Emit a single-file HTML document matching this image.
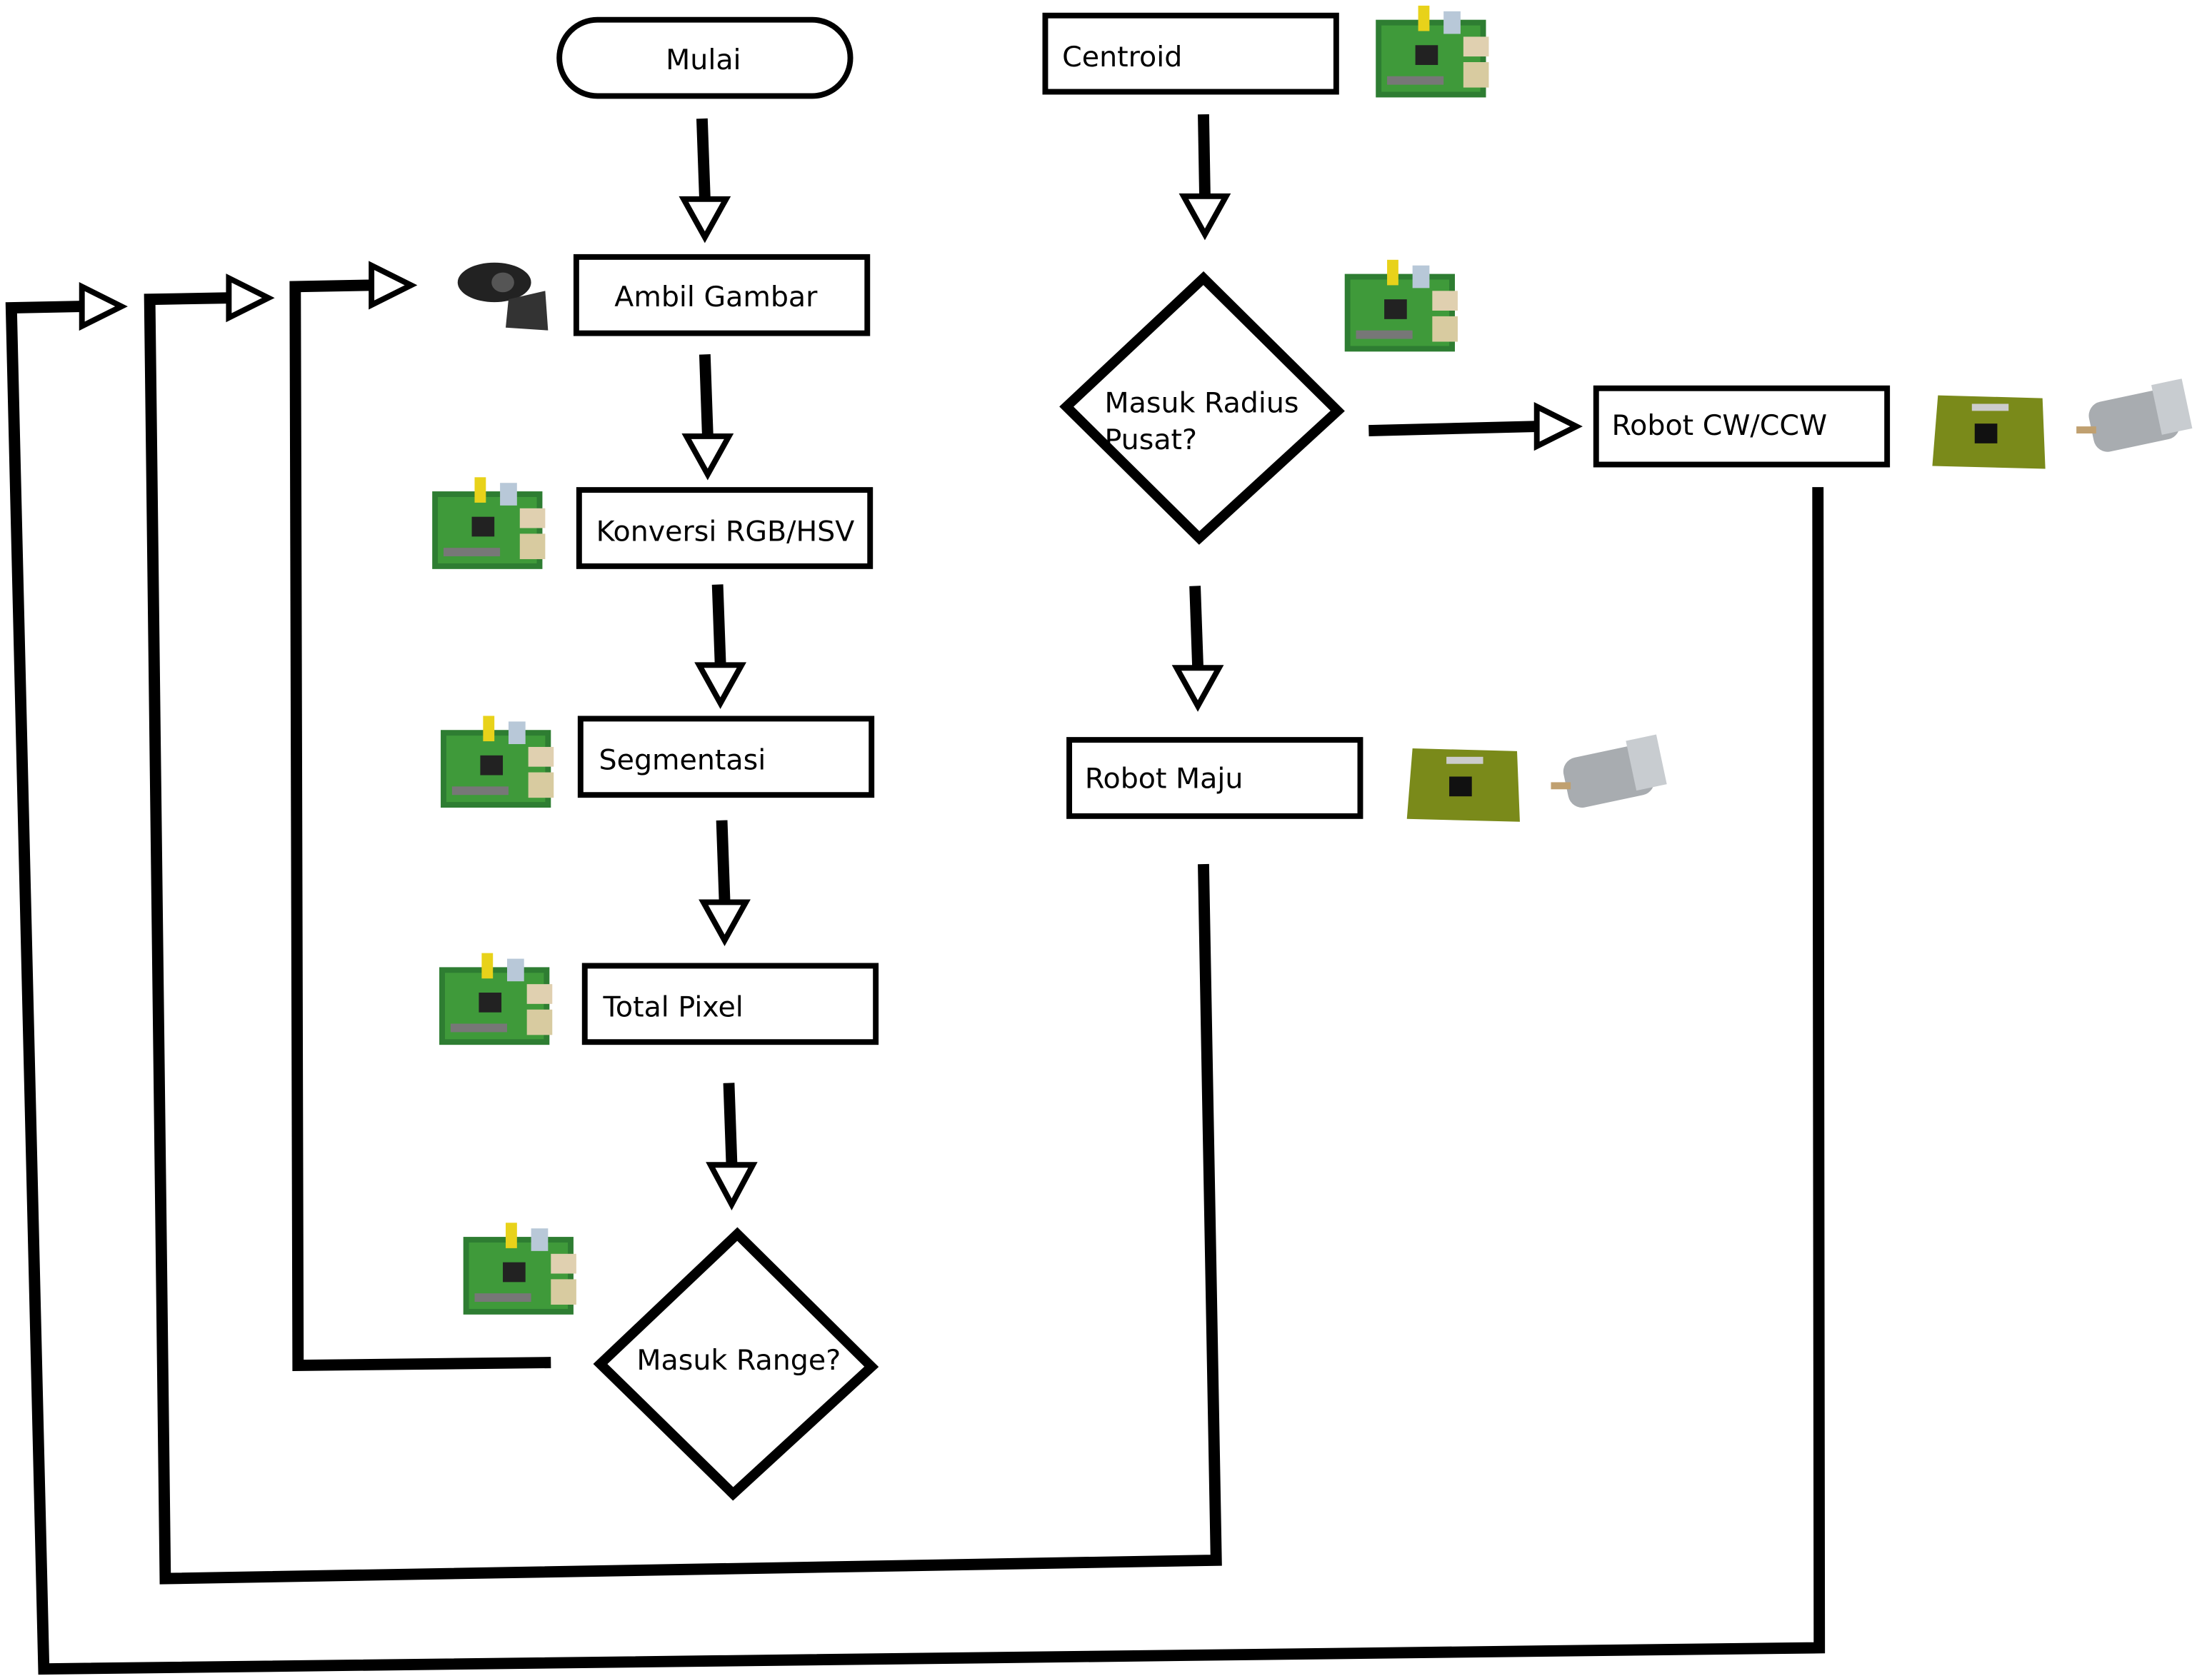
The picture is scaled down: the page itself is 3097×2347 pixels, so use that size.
<!DOCTYPE html>
<html><head><meta charset="utf-8"><style>
html,body{margin:0;padding:0;background:#fff;}
svg{display:block;}
text{font-family:"DejaVu Sans","Liberation Sans",sans-serif;font-size:20px;fill:#000;}
</style></head><body>
<svg width="3097" height="2347" viewBox="0 0 1566 1187" preserveAspectRatio="none" xmlns="http://www.w3.org/2000/svg">
<defs>
<g id="rpi">
<rect x="0" y="10" width="78" height="55" fill="#2e7d32"/>
<rect x="4" y="14" width="70" height="47" fill="#3f9a3a"/>
<rect x="30" y="0" width="8" height="18" fill="#e8d21a"/>
<rect x="48" y="4" width="12" height="16" fill="#b8c8d8"/>
<rect x="62" y="22" width="18" height="14" fill="#e0d0b0"/>
<rect x="62" y="40" width="18" height="18" fill="#d8cba0"/>
<rect x="28" y="28" width="16" height="14" fill="#222"/>
<rect x="8" y="50" width="40" height="6" fill="#777"/>
</g>
<g id="drv">
<polygon points="4,0 78,2 80,52 0,50" fill="#7a8a1a"/>
<rect x="30" y="20" width="16" height="14" fill="#111"/>
<rect x="28" y="6" width="26" height="5" fill="#ccc"/>
</g>
<g id="mot">
<rect x="10" y="10" width="62" height="36" rx="10" fill="#a8acb0" transform="rotate(-12 40 28)"/>
<rect x="58" y="6" width="22" height="36" fill="#c8ccd0" transform="rotate(-12 40 28)"/>
<rect x="0" y="32" width="14" height="5" fill="#c0a070"/>
</g>
</defs>
<g fill="none" stroke="#000" stroke-width="4">
<rect x="396" y="14" width="206" height="54" rx="27"/>
<rect x="408" y="182" width="206" height="54"/>
<rect x="410" y="347" width="206" height="54"/>
<rect x="411" y="509" width="206" height="54"/>
<rect x="414" y="684" width="206" height="54"/>
<rect x="740" y="11" width="206" height="54"/>
<rect x="1130" y="275" width="206" height="54"/>
<rect x="757" y="524" width="206" height="54"/>
</g>
<g fill="none" stroke="#000" stroke-width="7">
<polygon points="522,874 617,968 519,1058 425,966"/>
<polygon points="852,197 947,291 849,381 755,288"/>
</g>
<g fill="none" stroke="#000" stroke-width="8">
<path d="M497,84 L499,140"/>
<path d="M499,251 L501,308"/>
<path d="M508,414 L510,470"/>
<path d="M511,581 L513,638"/>
<path d="M516,767 L518,824"/>
<path d="M852,81 L853,138"/>
<path d="M846,415 L848,472"/>
<path d="M969,305 L1088,302"/>
<path d="M390,965 L211,967 L209,203 L262,202"/>
<path d="M852,612 L861,1105 L117,1118 L106,212 L162,211"/>
<path d="M1287,345 L1288,1167 L31,1182 L8,218 L58,217"/>
</g>
<g fill="#fff" stroke="#000" stroke-width="4">
<polygon points="484,141 514,141 499,168"/>
<polygon points="486,309 516,309 501,336"/>
<polygon points="495,471 525,471 510,498"/>
<polygon points="498,639 528,639 513,666"/>
<polygon points="503,825 533,825 518,853"/>
<polygon points="838,139 868,139 853,166"/>
<polygon points="833,473 863,473 848,500"/>
<polygon points="1088,288 1088,316 1116,302"/>
<polygon points="263,188 263,216 291,202"/>
<polygon points="162,197 162,225 190,211"/>
<polygon points="58,203 58,231 86,217"/>
</g>
<text x="498" y="49" text-anchor="middle">Mulai</text>
<text x="435" y="217">Ambil Gambar</text>
<text x="422" y="383">Konversi RGB/HSV</text>
<text x="424" y="545">Segmentasi</text>
<text x="427" y="720">Total Pixel</text>
<text x="523" y="970" text-anchor="middle">Masuk Range?</text>
<text x="752" y="47">Centroid</text>
<text x="782" y="292">Masuk Radius</text>
<text x="782" y="318">Pusat?</text>
<text x="1141" y="308">Robot CW/CCW</text>
<text x="768" y="558">Robot Maju</text>
<use href="#rpi" x="974" y="4"/>
<use href="#rpi" x="952" y="184"/>
<use href="#rpi" x="306" y="338"/>
<use href="#rpi" x="312" y="507"/>
<use href="#rpi" x="311" y="675"/>
<use href="#rpi" x="328" y="866"/>
<use href="#drv" x="1368" y="280"/>
<use href="#mot" x="1470" y="270"/>
<use href="#drv" x="996" y="530"/>
<use href="#mot" x="1098" y="522"/>
<g>
<ellipse cx="350" cy="200" rx="26" ry="14" fill="#222"/>
<ellipse cx="356" cy="200" rx="8" ry="7" fill="#555"/>
<polygon points="360,212 386,206 388,234 358,232" fill="#333"/>
</g>
</svg>
</body></html>
